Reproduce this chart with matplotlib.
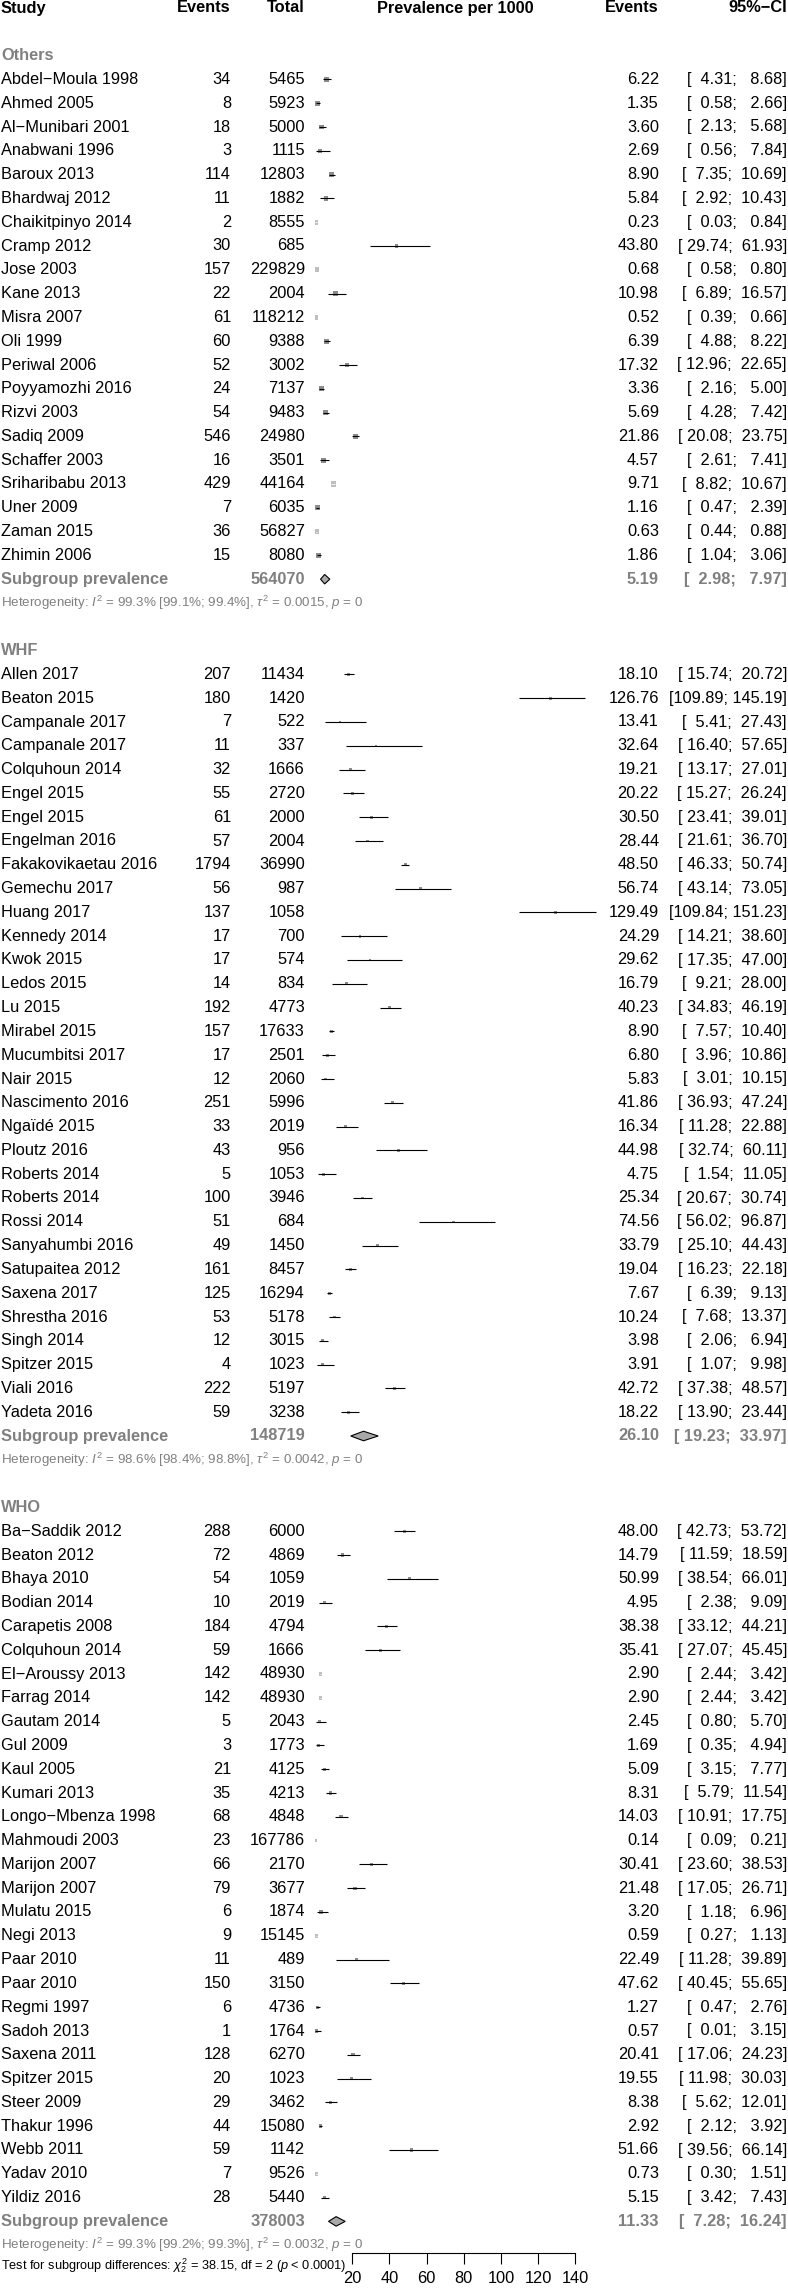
import numpy as np
import matplotlib
matplotlib.use("Agg")
import matplotlib.pyplot as plt
from matplotlib.patches import Polygon

plt.rcParams['font.family'] = ['Liberation Sans', 'DejaVu Sans']
plt.rcParams['mathtext.fontset'] = 'custom'
plt.rcParams['mathtext.rm'] = 'Liberation Sans'
plt.rcParams['mathtext.it'] = 'Liberation Sans:italic'
plt.rcParams['mathtext.bf'] = 'Liberation Sans:bold'

M = "\u2212"

# ---------------- data ----------------
group_names = ["Others", "WHF", "WHO"]

others_study = ["Abdel" + M + "Moula 1998", "Ahmed 2005", "Al" + M + "Munibari 2001", "Anabwani 1996",
                "Baroux 2013", "Bhardwaj 2012", "Chaikitpinyo 2014", "Cramp 2012", "Jose 2003", "Kane 2013",
                "Misra 2007", "Oli 1999", "Periwal 2006", "Poyyamozhi 2016", "Rizvi 2003", "Sadiq 2009",
                "Schaffer 2003", "Sriharibabu 2013", "Uner 2009", "Zaman 2015", "Zhimin 2006"]
others_events = [34, 8, 18, 3, 114, 11, 2, 30, 157, 22, 61, 60, 52, 24, 54, 546, 16, 429, 7, 36, 15]
others_total = [5465, 5923, 5000, 1115, 12803, 1882, 8555, 685, 229829, 2004, 118212, 9388, 3002, 7137,
                9483, 24980, 3501, 44164, 6035, 56827, 8080]
others_est = [6.22, 1.35, 3.60, 2.69, 8.90, 5.84, 0.23, 43.80, 0.68, 10.98, 0.52, 6.39, 17.32, 3.36, 5.69,
              21.86, 4.57, 9.71, 1.16, 0.63, 1.86]
others_lo = [4.31, 0.58, 2.13, 0.56, 7.35, 2.92, 0.03, 29.74, 0.58, 6.89, 0.39, 4.88, 12.96, 2.16, 4.28,
             20.08, 2.61, 8.82, 0.47, 0.44, 1.04]
others_hi = [8.68, 2.66, 5.68, 7.84, 10.69, 10.43, 0.84, 61.93, 0.80, 16.57, 0.66, 8.22, 22.65, 5.00, 7.42,
             23.75, 7.41, 10.67, 2.39, 0.88, 3.06]

whf_study = ["Allen 2017", "Beaton 2015", "Campanale 2017", "Campanale 2017", "Colquhoun 2014", "Engel 2015",
             "Engel 2015", "Engelman 2016", "Fakakovikaetau 2016", "Gemechu 2017", "Huang 2017", "Kennedy 2014",
             "Kwok 2015", "Ledos 2015", "Lu 2015", "Mirabel 2015", "Mucumbitsi 2017", "Nair 2015",
             "Nascimento 2016", "Ngaïdé 2015", "Ploutz 2016", "Roberts 2014", "Roberts 2014", "Rossi 2014",
             "Sanyahumbi 2016", "Satupaitea 2012", "Saxena 2017", "Shrestha 2016", "Singh 2014",
             "Spitzer 2015", "Viali 2016", "Yadeta 2016"]
whf_events = [207, 180, 7, 11, 32, 55, 61, 57, 1794, 56, 137, 17, 17, 14, 192, 157, 17, 12, 251, 33, 43, 5,
              100, 51, 49, 161, 125, 53, 12, 4, 222, 59]
whf_total = [11434, 1420, 522, 337, 1666, 2720, 2000, 2004, 36990, 987, 1058, 700, 574, 834, 4773, 17633,
             2501, 2060, 5996, 2019, 956, 1053, 3946, 684, 1450, 8457, 16294, 5178, 3015, 1023, 5197, 3238]
whf_est = [18.10, 126.76, 13.41, 32.64, 19.21, 20.22, 30.50, 28.44, 48.50, 56.74, 129.49, 24.29, 29.62,
           16.79, 40.23, 8.90, 6.80, 5.83, 41.86, 16.34, 44.98, 4.75, 25.34, 74.56, 33.79, 19.04, 7.67,
           10.24, 3.98, 3.91, 42.72, 18.22]
whf_lo = [15.74, 109.89, 5.41, 16.40, 13.17, 15.27, 23.41, 21.61, 46.33, 43.14, 109.84, 14.21, 17.35, 9.21,
          34.83, 7.57, 3.96, 3.01, 36.93, 11.28, 32.74, 1.54, 20.67, 56.02, 25.10, 16.23, 6.39, 7.68, 2.06,
          1.07, 37.38, 13.90]
whf_hi = [20.72, 145.19, 27.43, 57.65, 27.01, 26.24, 39.01, 36.70, 50.74, 73.05, 151.23, 38.60, 47.00,
          28.00, 46.19, 10.40, 10.86, 10.15, 47.24, 22.88, 60.11, 11.05, 30.74, 96.87, 44.43, 22.18, 9.13,
          13.37, 6.94, 9.98, 48.57, 23.44]

who_study = ["Ba" + M + "Saddik 2012", "Beaton 2012", "Bhaya 2010", "Bodian 2014", "Carapetis 2008",
             "Colquhoun 2014", "El" + M + "Aroussy 2013", "Farrag 2014", "Gautam 2014", "Gul 2009", "Kaul 2005",
             "Kumari 2013", "Longo" + M + "Mbenza 1998", "Mahmoudi 2003", "Marijon 2007", "Marijon 2007",
             "Mulatu 2015", "Negi 2013", "Paar 2010", "Paar 2010", "Regmi 1997", "Sadoh 2013", "Saxena 2011",
             "Spitzer 2015", "Steer 2009", "Thakur 1996", "Webb 2011", "Yadav 2010", "Yildiz 2016"]
who_events = [288, 72, 54, 10, 184, 59, 142, 142, 5, 3, 21, 35, 68, 23, 66, 79, 6, 9, 11, 150, 6, 1, 128,
              20, 29, 44, 59, 7, 28]
who_total = [6000, 4869, 1059, 2019, 4794, 1666, 48930, 48930, 2043, 1773, 4125, 4213, 4848, 167786, 2170,
             3677, 1874, 15145, 489, 3150, 4736, 1764, 6270, 1023, 3462, 15080, 1142, 9526, 5440]
who_est = [48.00, 14.79, 50.99, 4.95, 38.38, 35.41, 2.90, 2.90, 2.45, 1.69, 5.09, 8.31, 14.03, 0.14, 30.41,
           21.48, 3.20, 0.59, 22.49, 47.62, 1.27, 0.57, 20.41, 19.55, 8.38, 2.92, 51.66, 0.73, 5.15]
who_lo = [42.73, 11.59, 38.54, 2.38, 33.12, 27.07, 2.44, 2.44, 0.80, 0.35, 3.15, 5.79, 10.91, 0.09, 23.60,
          17.05, 1.18, 0.27, 11.28, 40.45, 0.47, 0.01, 17.06, 11.98, 5.62, 2.12, 39.56, 0.30, 3.42]
who_hi = [53.72, 18.59, 66.01, 9.09, 44.21, 45.45, 3.42, 3.42, 5.70, 4.94, 7.77, 11.54, 17.75, 0.21, 38.53,
          26.71, 6.96, 1.13, 39.89, 55.65, 2.76, 3.15, 24.23, 30.03, 12.01, 3.92, 66.14, 1.51, 7.43]

sub_total = [564070, 148719, 378003]
sub_est = [5.19, 26.10, 11.33]
sub_lo = [2.98, 19.23, 7.28]
sub_hi = [7.97, 33.97, 16.24]
het_i2 = ["99.3", "98.6", "99.3"]
het_i2_lo = ["99.1", "98.4", "99.2"]
het_i2_hi = ["99.4", "98.8", "99.3"]
het_tau2 = ["0.0015", "0.0042", "0.0032"]
test_chi2 = "38.15"
test_df = "2"
test_p = "0.0001"
xticks = [20, 40, 60, 80, 100, 120, 140]

groups = [
    (others_study, others_events, others_total, others_est, others_lo, others_hi),
    (whf_study, whf_events, whf_total, whf_est, whf_lo, whf_hi),
    (who_study, who_events, who_total, who_est, who_lo, who_hi),
]

# ---------------- layout ----------------
W, H = 788, 2293
DPI = 100
ROW0, PITCH = 8.0, 23.8
XMAX = 152.0
PX_PER_UNIT = 1.86
X0_PX = 315.0
FS = 11.8
GRAY = "#808080"
SQ_GRAY = "#8C8C8C"
SQ_LIGHT = "#BEBEBE"

fig = plt.figure(figsize=(W / DPI, H / DPI), dpi=DPI)
ylim = ((H - ROW0) / PITCH, -ROW0 / PITCH)

ax_t = fig.add_axes([0, 0, 1, 1])
ax_t.set_xlim(0, W)
ax_t.set_ylim(*ylim)
ax_t.axis("off")

ax_f = fig.add_axes([X0_PX / W, 0, XMAX * PX_PER_UNIT / W, 1])
ax_f.set_xlim(0, XMAX)
ax_f.set_ylim(*ylim)
ax_f.axis("off")
ax_f.patch.set_alpha(0)

X_STUDY, X_EV, X_TOT, X_HDR, X_EST, X_CI = 1, 231, 305, 455, 659, 787


def txt(x, r, s, ha="left", color="black", weight="normal", size=FS):
    ax_t.text(x, r, s, ha=ha, va="center", color=color, fontweight=weight, fontsize=size)


def fmt_ci(lo, hi):
    return "[" + f"{lo:.2f}".rjust(6) + "; " + f"{hi:.2f}".rjust(6) + "]"


# header
txt(X_STUDY, 0, "Study", weight="bold")
txt(X_EV, 0, "Events", ha="right", weight="bold")
txt(X_TOT, 0, "Total", ha="right", weight="bold")
txt(X_HDR, 0, "Prevalence per 1000", ha="center", weight="bold")
txt(X_EST, 0, "Events", ha="right", weight="bold")
txt(X_CI, 0, "95%" + M + "CI", ha="right", weight="bold")

BASE_SIDE_PX = 3.6     # square side used for the "CI inside square" rule
DRAW_SCALE = 1.4       # squares drawn a bit larger for visibility at this resolution
r = 2
tau_vals = [float(t) for t in het_tau2]
wmax = 1.0 / (1.0 / (max(others_total) + 0.5) + tau_vals[0])
for gi, (names, ev, tot, est, lo, hi) in enumerate(groups):
    txt(X_STUDY, r, group_names[gi], color=GRAY, weight="bold")
    r += 1
    tot_a = np.array(tot, dtype=float)
    w = 1.0 / (1.0 / (tot_a + 0.5) + tau_vals[gi])
    side_px = BASE_SIDE_PX * np.sqrt(w / wmax)
    rows = np.arange(r, r + len(names))
    for i, name in enumerate(names):
        rr = rows[i]
        txt(X_STUDY, rr, name)
        txt(X_EV, rr, str(ev[i]), ha="right")
        txt(X_TOT, rr, str(tot[i]), ha="right")
        txt(X_EST, rr, f"{est[i]:.2f}", ha="right")
        txt(X_CI, rr, fmt_ci(lo[i], hi[i]), ha="right")
    est_a, lo_a, hi_a = np.array(est), np.array(lo), np.array(hi)
    inside = (hi_a - lo_a) * PX_PER_UNIT < side_px
    side_pt = side_px * DRAW_SCALE * 72.0 / DPI
    ax_f.scatter(est_a[~inside], rows[~inside], s=(side_pt[~inside]) ** 2, marker="s", color=SQ_GRAY,
                 linewidths=0, zorder=2)
    ax_f.scatter(est_a[inside], rows[inside], s=(side_pt[inside]) ** 2, marker="s", color=SQ_LIGHT,
                 linewidths=0, zorder=2)
    ax_f.hlines(rows[~inside], lo_a[~inside], hi_a[~inside], color="black", lw=0.8, zorder=3)
    ax_f.hlines(rows[inside], lo_a[inside], hi_a[inside], color="white", lw=0.6, zorder=3)
    r += len(names)
    # subgroup
    txt(X_STUDY, r, "Subgroup prevalence", color=GRAY, weight="bold")
    txt(X_TOT, r, str(sub_total[gi]), ha="right", color=GRAY, weight="bold")
    txt(X_EST, r, f"{sub_est[gi]:.2f}", ha="right", color=GRAY, weight="bold")
    txt(X_CI, r, fmt_ci(sub_lo[gi], sub_hi[gi]), ha="right", color=GRAY, weight="bold")
    dh = 0.2
    ax_f.add_patch(Polygon([[sub_lo[gi], r], [sub_est[gi], r - dh], [sub_hi[gi], r], [sub_est[gi], r + dh]],
                           closed=True, facecolor="#A8A8A8", edgecolor="black", lw=0.8, zorder=3))
    r += 1
    het = (f"Heterogeneity: $I^2$ = {het_i2[gi]}% [{het_i2_lo[gi]}%; {het_i2_hi[gi]}%], "
           f"$\\tau^2$ = {het_tau2[gi]}, $p$ = 0")
    txt(X_STUDY, r, het, color=GRAY, size=9.6)
    last_het = r
    r += 2

# test for subgroup differences
txt(X_STUDY, last_het + 0.88,
    f"Test for subgroup differences: $\\chi^2_{test_df}$ = {test_chi2}, df = {test_df} ($p$ < {test_p})",
    size=9.2)

# x axis
AX_Y = 2253.0
ax_x = fig.add_axes([X0_PX / W, 1 - AX_Y / H, XMAX * PX_PER_UNIT / W, 1e-5])
ax_x.set_xlim(0, XMAX)
ax_x.patch.set_alpha(0)
for s in ["top", "left", "right"]:
    ax_x.spines[s].set_visible(False)
ax_x.spines["bottom"].set_bounds(xticks[0], xticks[-1])
ax_x.spines["bottom"].set_linewidth(0.8)
ax_x.set_yticks([])
ax_x.set_xticks(xticks)
ax_x.set_xticklabels([str(t) for t in xticks])
ax_x.tick_params(axis="x", direction="out", length=8, width=0.8, labelsize=FS, pad=5)

fig.savefig("out.png", dpi=DPI)
